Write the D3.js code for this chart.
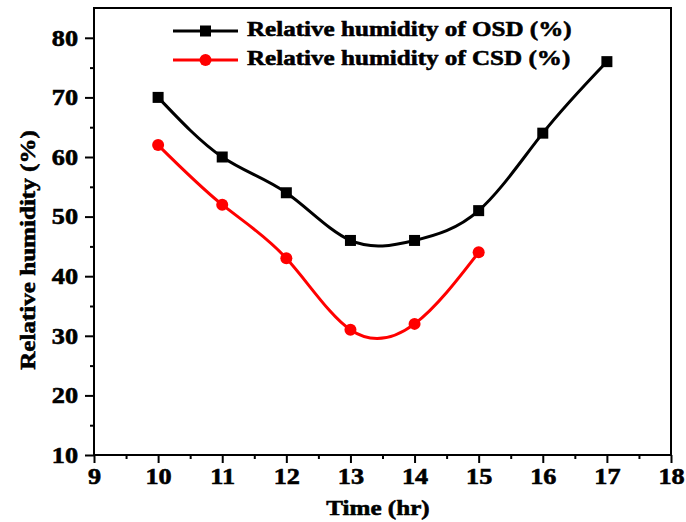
<!DOCTYPE html>
<html>
<head>
<meta charset="utf-8">
<script src="https://cdn.jsdelivr.net/npm/d3@7"></script>
<style>
  body { margin: 0; background: #fff; }
  svg text { font-family: "Liberation Serif", "Times New Roman", serif; font-weight: bold; }
</style>
</head>
<body>
<div id="chart"></div>
<script>
// Dữ liệu
const timeOSD = [10, 11, 12, 13, 14, 15, 16, 17];
const rhOSD = [70, 60, 54, 46, 46, 51, 64, 76];
const timeCSD = [10, 11, 12, 13, 14, 15];
const rhCSD = [62, 52, 43, 31, 32, 44];
const xTicks = [9, 10, 11, 12, 13, 14, 15, 16, 17, 18];
const yTicks = [10, 20, 30, 40, 50, 60, 70, 80];
const seriesNames = ["Relative humidity of OSD (%)", "Relative humidity of CSD (%)"];

const W = 686, H = 522;
const margin = { top: 8, right: 15, bottom: 67, left: 94 };
const width = W - margin.left - margin.right;
const height = H - margin.top - margin.bottom;

const svg = d3.select("#chart").append("svg")
    .attr("width", W).attr("height", H)
    .append("g")
    .attr("transform", `translate(${margin.left},${margin.top})`);

const x = d3.scaleLinear().domain([9, 18]).range([0, width]);
const y = d3.scaleLinear().domain([10, 85]).range([height, 0]);

// Khung
svg.append("rect")
    .attr("width", width).attr("height", height)
    .attr("fill", "none").attr("stroke", "#000").attr("stroke-width", 2);

// Trục X
const gx = svg.append("g").attr("transform", `translate(0,${height})`);
gx.call(d3.axisBottom(x).tickValues(d3.range(9.5, 18, 1)).tickSize(4).tickFormat(""));
gx.call(g => g.append("g").call(d3.axisBottom(x).tickValues(xTicks).tickSize(8).tickPadding(5).tickFormat(d3.format("d"))));
gx.selectAll("text").style("font-size", "23px").attr("fill", "#000");

// Trục Y
const gy = svg.append("g");
gy.call(d3.axisLeft(y).tickValues(d3.range(15, 85, 10)).tickSize(4).tickFormat(""));
gy.call(g => g.append("g").call(d3.axisLeft(y).tickValues(yTicks).tickSize(9).tickPadding(7)));
gy.selectAll("text").style("font-size", "23px").attr("fill", "#000");

svg.selectAll(".domain").remove();
svg.selectAll(".tick line").attr("stroke", "#000").attr("stroke-width", 2);

// Tiêu đề trục
svg.append("text")
    .attr("x", 378 - margin.left)
    .attr("y", 515 - margin.top)
    .attr("text-anchor", "middle")
    .style("font-size", "22px")
    .text("Time (hr)");

svg.append("text")
    .attr("transform", `translate(${35 - margin.left},${250 - margin.top}) rotate(-90)`)
    .attr("text-anchor", "middle")
    .style("font-size", "22px")
    .text("Relative humidity (%)");

// Đường
const line = d3.line().x(d => x(d[0])).y(d => y(d[1])).curve(d3.curveNatural);
const osd = timeOSD.map((t, i) => [t, rhOSD[i]]);
const csd = timeCSD.map((t, i) => [t, rhCSD[i]]);

svg.append("path").datum(osd).attr("d", line)
    .attr("fill", "none").attr("stroke", "#000").attr("stroke-width", 3);
svg.append("path").datum(csd).attr("d", line)
    .attr("fill", "none").attr("stroke", "#ff0000").attr("stroke-width", 3);

svg.selectAll(".sq").data(osd).enter().append("rect")
    .attr("x", d => x(d[0]) - 5.5).attr("y", d => y(d[1]) - 5.5)
    .attr("width", 11).attr("height", 11).attr("fill", "#000");
svg.selectAll(".ci").data(csd).enter().append("circle")
    .attr("cx", d => x(d[0])).attr("cy", d => y(d[1]))
    .attr("r", 6).attr("fill", "#ff0000");

// Chú thích
const legend = svg.append("g").attr("transform", `translate(${173 - margin.left},${31 - margin.top})`);
seriesNames.forEach((name, i) => {
    const color = i === 0 ? "#000" : "#ff0000";
    const gy0 = i * 29;
    legend.append("line").attr("x1", 0).attr("x2", 65).attr("y1", gy0).attr("y2", gy0)
        .attr("stroke", color).attr("stroke-width", 3);
    if (i === 0) {
        legend.append("rect").attr("x", 27).attr("y", gy0 - 5.5).attr("width", 11).attr("height", 11).attr("fill", color);
    } else {
        legend.append("circle").attr("cx", 32.5).attr("cy", gy0).attr("r", 6).attr("fill", color);
    }
    legend.append("text").attr("x", 74).attr("y", gy0 + 5)
        .style("font-size", "22px").text(name);
});

// Chữ trong ảnh gốc rộng ngang và đậm hơn
svg.selectAll("text").each(function() {
    const w = this.getComputedTextLength();
    d3.select(this).attr("textLength", w * 1.14).attr("lengthAdjust", "spacingAndGlyphs")
        .attr("stroke", "#000").attr("stroke-width", 0.6);
});
</script>
</body>
</html>
